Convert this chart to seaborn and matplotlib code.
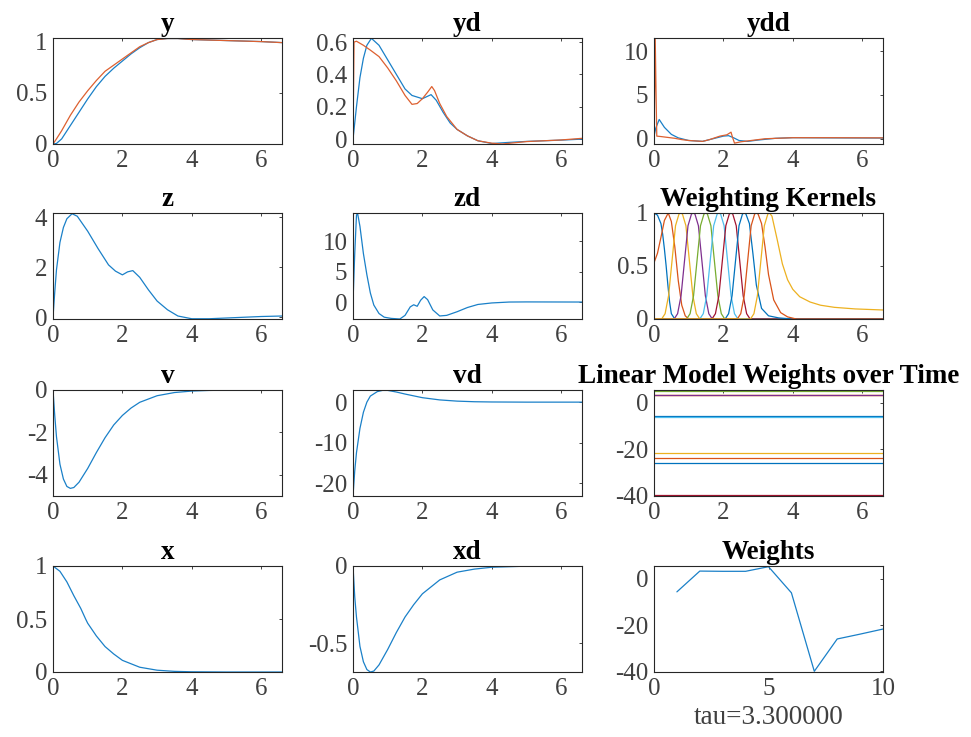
import numpy as np
import pandas as pd
import matplotlib
matplotlib.use("Agg")
import matplotlib.pyplot as plt
import seaborn as sns

# ---------------- data ----------------
T_Y = [0, 0.1, 0.25, 0.5, 0.75, 1, 1.25, 1.5, 1.75, 2, 2.25, 2.5, 2.75, 3, 3.3, 3.6, 4, 5, 6, 6.6]
Y_DMP = [0, 0.005, 0.05, 0.18, 0.31, 0.44, 0.56, 0.66, 0.74, 0.81, 0.88, 0.94, 0.99, 1.02, 1.03, 1.03, 1.02, 1.01, 1.0, 0.99]
Y_DEMO = [0, 0.05, 0.13, 0.28, 0.41, 0.52, 0.62, 0.71, 0.77, 0.83, 0.89, 0.95, 0.99, 1.02, 1.03, 1.03, 1.02, 1.01, 1.0, 0.99]

T_YD = [0, 0.1, 0.2, 0.3, 0.4, 0.53, 0.75, 1.0, 1.25, 1.5, 1.7, 2.0, 2.25, 2.4, 2.6, 2.8, 3.0, 3.3, 3.6, 4.0, 4.5, 5.0, 5.5, 6.0, 6.6]
YD_DMP = [0, 0.2, 0.38, 0.5, 0.58, 0.623, 0.58, 0.49, 0.40, 0.31, 0.27, 0.25, 0.275, 0.24, 0.165, 0.10, 0.06, 0.02, -0.01, -0.027, -0.02, -0.014, -0.01, -0.006, 0.0]
T_YD_DEMO = [0, 0.03, 0.1, 0.3, 0.5, 0.75, 1.0, 1.25, 1.5, 1.7, 1.85, 2.0, 2.15, 2.27, 2.35, 2.5, 2.7, 3.0, 3.3, 3.6, 4.0, 4.3, 5.0, 6.0, 6.6]
YD_DEMO = [0, 0.60, 0.605, 0.58, 0.55, 0.51, 0.44, 0.36, 0.27, 0.215, 0.22, 0.25, 0.29, 0.325, 0.30, 0.22, 0.14, 0.06, 0.02, -0.01, -0.025, -0.03, -0.015, -0.005, 0.005]

T_YDD = [0, 0.05, 0.15, 0.3, 0.5, 0.7, 1.0, 1.4, 1.7, 2.0, 2.15, 2.3, 2.45, 2.7, 3.0, 3.5, 4.0, 5.0, 6.6]
YDD_DMP = [0.3, 1.2, 2.2, 1.3, 0.5, 0.1, -0.2, -0.3, 0.0, 0.3, 0.35, 0.1, -0.2, -0.3, -0.15, 0.05, 0.12, 0.1, 0.08]
T_YDD_DEMO = [0, 0.02, 0.035, 0.06, 0.08, 0.2, 0.4, 0.6, 0.8, 1.0, 1.4, 1.6, 1.9, 2.1, 2.22, 2.26, 2.32, 2.5, 2.8, 3.2, 4.0, 5.0, 6.6]
YDD_DEMO = [0, 6, 11.5, 5, 0.3, 0.25, 0.15, 0.05, -0.1, -0.2, -0.3, -0.1, 0.3, 0.45, 0.75, 0.2, -0.5, -0.35, -0.2, 0.0, 0.12, 0.12, 0.1]

T_Z = [0, 0.05, 0.1, 0.2, 0.3, 0.4, 0.55, 0.7, 1.0, 1.3, 1.6, 1.8, 2.0, 2.15, 2.3, 2.5, 2.75, 3.0, 3.3, 3.6, 4.0, 4.5, 5.0, 5.5, 6.0, 6.6]
Z = [0, 1.0, 1.9, 3.0, 3.6, 3.95, 4.15, 4.05, 3.45, 2.75, 2.1, 1.85, 1.7, 1.82, 1.87, 1.6, 1.1, 0.65, 0.3, 0.05, -0.06, -0.06, -0.03, 0.0, 0.03, 0.05]

T_ZD = [0, 0.05, 0.1, 0.13, 0.2, 0.3, 0.4, 0.5, 0.6, 0.75, 0.9, 1.1, 1.35, 1.5, 1.65, 1.75, 1.85, 1.95, 2.05, 2.15, 2.3, 2.5, 2.7, 3.0, 3.3, 3.6, 4.0, 4.5, 5.0, 6.6]
ZD = [0, 8, 14.3, 14.7, 12.5, 8, 4.5, 1.5, -0.5, -1.9, -2.5, -2.7, -2.8, -2.2, -0.8, -0.45, -0.7, 0.3, 0.9, 0.4, -1.3, -2.3, -2.2, -1.6, -0.9, -0.4, -0.15, 0.0, 0.02, 0.0]

T_V = [0, 0.05, 0.1, 0.2, 0.3, 0.4, 0.5, 0.6, 0.75, 1.0, 1.25, 1.5, 1.75, 2.0, 2.25, 2.5, 3.0, 3.5, 4.0, 4.5, 5.0, 6.6]
V = [0, -1.2, -2.2, -3.5, -4.2, -4.55, -4.64, -4.6, -4.35, -3.7, -2.95, -2.25, -1.65, -1.2, -0.85, -0.58, -0.27, -0.12, -0.05, -0.02, -0.01, 0]

T_VD = [0, 0.05, 0.1, 0.2, 0.3, 0.4, 0.5, 0.7, 0.85, 1.0, 1.25, 1.5, 2.0, 2.5, 3.0, 3.5, 4.0, 5.0, 6.6]
VD = [-23.2, -17, -12.5, -6.5, -2.5, 0, 1.5, 2.6, 2.9, 2.9, 2.5, 2.0, 1.1, 0.55, 0.25, 0.1, 0.04, 0.0, 0.0]

T_X = [0, 0.2, 0.4, 0.6, 0.8, 0.94, 1.0, 1.25, 1.5, 1.75, 2.0, 2.5, 3.0, 3.5, 4.0, 5.0, 6.6]
X = [1, 0.95, 0.85, 0.72, 0.6, 0.5, 0.46, 0.34, 0.24, 0.17, 0.11, 0.045, 0.017, 0.006, 0.002, 0, 0]

T_XD = [0, 0.05, 0.1, 0.2, 0.3, 0.4, 0.5, 0.6, 0.75, 1.0, 1.25, 1.5, 1.75, 2.0, 2.5, 3.0, 3.5, 4.0, 5.0, 6.6]
XD = [0, -0.2, -0.33, -0.52, -0.62, -0.67, -0.686, -0.68, -0.64, -0.54, -0.43, -0.33, -0.25, -0.18, -0.09, -0.04, -0.02, -0.008, -0.001, 0]

# weighting kernels: (time, activation) pairs per kernel
K_T = [
    [0, 0.1, 0.2, 0.25, 0.3, 0.35, 0.4, 0.45, 0.5, 0.6, 6.6],
    [0, 0.1, 0.2, 0.3, 0.41, 0.5, 0.6, 0.7, 0.8, 0.9, 1.0, 6.6],
    [0, 0.22, 0.32, 0.42, 0.52, 0.62, 0.72, 0.77, 0.82, 0.92, 1.02, 1.12, 1.22, 1.32, 6.6],
    [0, 0.58, 0.68, 0.78, 0.88, 0.98, 1.08, 1.13, 1.18, 1.28, 1.38, 1.48, 1.58, 1.68, 6.6],
    [0, 0.94, 1.04, 1.14, 1.24, 1.34, 1.44, 1.49, 1.54, 1.64, 1.74, 1.84, 1.94, 2.04, 6.6],
    [0, 1.32, 1.42, 1.52, 1.62, 1.72, 1.82, 1.87, 1.92, 2.02, 2.12, 2.22, 2.32, 2.42, 6.6],
    [0, 1.67, 1.77, 1.87, 1.97, 2.07, 2.17, 2.22, 2.27, 2.37, 2.47, 2.57, 2.67, 2.77, 6.6],
    [0, 2.05, 2.15, 2.25, 2.35, 2.45, 2.55, 2.6, 2.65, 2.75, 2.85, 2.95, 3.1, 3.3, 3.6, 4.0, 6.6],
    [0, 2.4, 2.5, 2.6, 2.7, 2.8, 2.9, 2.95, 3.0, 3.1, 3.2, 3.3, 3.45, 3.65, 3.85, 4.1, 6.6],
    [0, 2.78, 2.88, 2.98, 3.08, 3.18, 3.28, 3.33, 3.4, 3.55, 3.7, 3.85, 4.0, 4.2, 4.5, 4.8, 5.2, 5.8, 6.6],
]
K_V = [
    [1.0, 0.98, 0.9, 0.8, 0.66, 0.5, 0.32, 0.16, 0.05, 0.0, 0.0],
    [0.53, 0.62, 0.77, 0.93, 1.0, 0.92, 0.68, 0.36, 0.13, 0.03, 0.0, 0.0],
    [0, 0, 0.05, 0.22, 0.55, 0.88, 0.99, 1, 0.99, 0.88, 0.55, 0.22, 0.05, 0, 0],
    [0, 0, 0.05, 0.22, 0.55, 0.88, 0.99, 1, 0.99, 0.88, 0.55, 0.22, 0.05, 0, 0],
    [0, 0, 0.05, 0.22, 0.55, 0.88, 0.99, 1, 0.99, 0.88, 0.55, 0.22, 0.05, 0, 0],
    [0, 0, 0.05, 0.22, 0.55, 0.88, 0.99, 1, 0.99, 0.88, 0.55, 0.22, 0.05, 0, 0],
    [0, 0, 0.05, 0.22, 0.55, 0.88, 0.99, 1, 0.99, 0.88, 0.55, 0.22, 0.05, 0, 0],
    [0, 0, 0.05, 0.22, 0.55, 0.88, 0.99, 1, 0.99, 0.9, 0.62, 0.32, 0.1, 0.03, 0.01, 0, 0],
    [0, 0, 0.05, 0.22, 0.55, 0.88, 0.99, 1, 0.99, 0.9, 0.68, 0.42, 0.18, 0.06, 0.02, 0, 0],
    [0, 0, 0.05, 0.22, 0.55, 0.88, 0.99, 1, 0.97, 0.75, 0.52, 0.37, 0.28, 0.21, 0.16, 0.13, 0.11, 0.095, 0.085],
]

W_IDX = [1, 2, 3, 4, 5, 6, 7, 8, 9, 10]
W = [-5.6, 3.4, 3.3, 3.3, 5.3, -6.0, -40.0, -26.0, -23.9, -21.7]
T_RANGE = [0, 6.6]
TAU_LABEL = "tau=3.300000"

# ---------------- style ----------------
sns.set_theme(style="white")
plt.rcParams["font.family"] = ["Liberation Serif", "DejaVu Serif"]
plt.rcParams["axes.unicode_minus"] = False
plt.rcParams["axes.edgecolor"] = "#262626"
plt.rcParams["axes.linewidth"] = 0.8

ML = ["#0072BD", "#D95319", "#EDB120", "#7E2F8E", "#77AC30", "#4DBEEE", "#A2142F"]
BLUE, RED = "#1A80C8", "#DD6030"
FS = 18
TFS = 19.5
LW = 0.9

fig = plt.figure(figsize=(9.71, 7.37), dpi=100)
W_PX, H_PX = 971, 737
col_left = [53, 353, 654]
row_top = [38, 213, 390, 566]
ax_w, ax_h = 229, 106


def make_ax(r, c):
    l = col_left[c] / W_PX
    b = 1 - (row_top[r] + ax_h) / H_PX
    return fig.add_axes([l, b, ax_w / W_PX, ax_h / H_PX])


def style(ax, title, ylim, yticks, xlim=(0, 6.6), xticks=(0, 2, 4, 6), yfmt=None):
    ax.set_xlim(*xlim)
    ax.set_ylim(*ylim)
    ax.set_xticks(list(xticks))
    ax.set_yticks(list(yticks))
    if yfmt:
        ax.set_yticklabels(yfmt)
    ax.tick_params(direction="in", top=True, right=True, length=2.5, width=0.6,
                   labelsize=FS, pad=4, colors="#262626")
    for lab in ax.get_xticklabels() + ax.get_yticklabels():
        lab.set_color("#404040")
    ax.set_title(title, fontsize=TFS, fontweight="bold", pad=5, color="black")
    ax.set_xlabel("")
    ax.set_ylabel("")
    for s in ax.spines.values():
        s.set_visible(True)
        s.set_color("#262626")


def line(ax, t, v, color):
    sns.lineplot(x=t, y=v, ax=ax, color=color, lw=LW, estimator=None, sort=False)


# y
ax = make_ax(0, 0)
line(ax, T_Y, Y_DMP, BLUE)
line(ax, T_Y, Y_DEMO, RED)
style(ax, "y", (0, 1.035), (0, 0.5, 1), yfmt=["0", "0.5", "1"])

# yd
ax = make_ax(0, 1)
line(ax, T_YD, YD_DMP, BLUE)
line(ax, T_YD_DEMO, YD_DEMO, RED)
style(ax, "yd", (-0.03, 0.625), (0, 0.2, 0.4, 0.6), yfmt=["0", "0.2", "0.4", "0.6"])

# ydd
ax = make_ax(0, 2)
line(ax, T_YDD, YDD_DMP, BLUE)
line(ax, T_YDD_DEMO, YDD_DEMO, RED)
style(ax, "ydd", (-0.6, 11.5), (0, 5, 10))

# z
ax = make_ax(1, 0)
line(ax, T_Z, Z, BLUE)
style(ax, "z", (-0.07, 4.18), (0, 2, 4))

# zd
ax = make_ax(1, 1)
line(ax, T_ZD, ZD, BLUE)
style(ax, "zd", (-2.8, 14.7), (0, 5, 10))

# weighting kernels
ax = make_ax(1, 2)
rows = []
for i, (tt, vv) in enumerate(zip(K_T, K_V)):
    for a, b in zip(tt, vv):
        rows.append({"t": a, "v": b, "k": f"k{i+1}"})
kdf = pd.DataFrame(rows)
pal = {f"k{i+1}": ML[i % 7] for i in range(len(K_T))}
sns.lineplot(data=kdf, x="t", y="v", hue="k", palette=pal, ax=ax, lw=LW,
             estimator=None, sort=False, legend=False)
style(ax, "Weighting Kernels", (0, 1), (0, 0.5, 1), yfmt=["0", "0.5", "1"])

# v
ax = make_ax(2, 0)
line(ax, T_V, V, BLUE)
style(ax, "v", (-5.0, 0.0), (-4, -2, 0))

# vd
ax = make_ax(2, 1)
line(ax, T_VD, VD, BLUE)
style(ax, "vd", (-23.2, 3.0), (-20, -10, 0))

# linear model weights over time
ax = make_ax(2, 2)
lrows = []
for i, w in enumerate(W):
    for t in T_RANGE:
        lrows.append({"t": t, "w": w, "k": f"k{i+1}"})
ldf = pd.DataFrame(lrows)
sns.lineplot(data=ldf, x="t", y="w", hue="k", palette=pal, ax=ax, lw=LW,
             estimator=None, sort=False, legend=False)
style(ax, "Linear Model Weights over Time", (-40.3, 5.6), (-40, -20, 0))

# x
ax = make_ax(3, 0)
line(ax, T_X, X, BLUE)
style(ax, "x", (0, 1), (0, 0.5, 1), yfmt=["0", "0.5", "1"])

# xd
ax = make_ax(3, 1)
line(ax, T_XD, XD, BLUE)
style(ax, "xd", (-0.686, 0.0), (-0.5, 0), yfmt=["-0.5", "0"])

# weights
ax = make_ax(3, 2)
line(ax, W_IDX, W, BLUE)
style(ax, "Weights", (-40.3, 5.6), (-40, -20, 0), xlim=(0, 10), xticks=(0, 5, 10))
ax.set_xlabel(TAU_LABEL, fontsize=TFS, color="#404040", labelpad=4)

fig.savefig("out.png", dpi=100, facecolor="white")
